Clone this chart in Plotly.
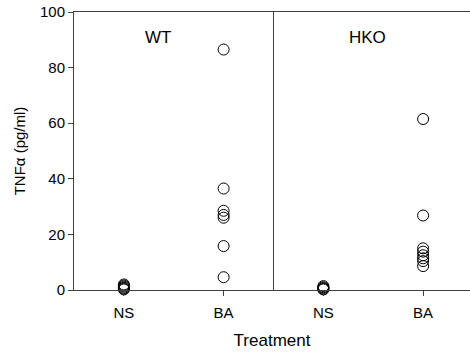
import plotly.graph_objects as go

groups = ["WT", "HKO"]
treatments = ["NS", "BA"]
tick_labels = ["NS", "BA", "NS", "BA"]

wt_ns = [0.2, 0.5, 0.8, 1.2, 1.6, 2.0]
wt_ba = [86.5, 36.5, 28.5, 27.0, 26.0, 15.8, 4.6]
hko_ns = [0.2, 0.4, 0.7, 1.0, 1.4]
hko_ba = [61.5, 26.8, 15.0, 13.8, 12.5, 11.4, 10.4, 8.6]

series = [wt_ns, wt_ba, hko_ns, hko_ba]
positions = [i + 0.5 for i in range(len(series))]

fig = go.Figure()
for pos, vals in zip(positions, series):
    fig.add_trace(go.Scatter(
        x=[pos] * len(vals), y=vals, mode="markers",
        marker=dict(symbol="circle-open", size=11, color="black",
                    line=dict(width=1, color="black")),
        showlegend=False, cliponaxis=False,
    ))

font = "Liberation Sans, Arial, sans-serif"
fig.update_layout(
    width=470, height=356,
    margin=dict(l=74, r=0, t=12, b=66),
    plot_bgcolor="white", paper_bgcolor="white",
    font=dict(family=font, color="black", size=15),
    xaxis=dict(range=[0, 3.97], tickvals=positions, ticktext=tick_labels,
               ticks="outside", ticklen=5, tickcolor="#404040",
               ticklabelstandoff=4,
               showline=True, linecolor="#404040", linewidth=1, mirror=True,
               showgrid=False, zeroline=False,
               title=dict(text="Treatment", font=dict(size=17), standoff=14)),
    yaxis=dict(range=[0, 100], tickvals=[0, 20, 40, 60, 80, 100],
               ticks="outside", ticklen=5, tickcolor="#404040",
               showline=True, linecolor="#404040", linewidth=1,
               showgrid=False, zeroline=False,
               title=dict(text="TNFα (pg/ml)", font=dict(size=15), standoff=10)),
)
fig.add_shape(type="line", xref="x", yref="paper", x0=2, x1=2, y0=0, y1=1,
              line=dict(color="#404040", width=1))
label_x = [0.84, 2.94]
for lx, g in zip(label_x, groups):
    fig.add_annotation(x=lx, y=91, xref="x", yref="y", text=g,
                       showarrow=False, font=dict(size=17))

fig.write_html("out.html")
